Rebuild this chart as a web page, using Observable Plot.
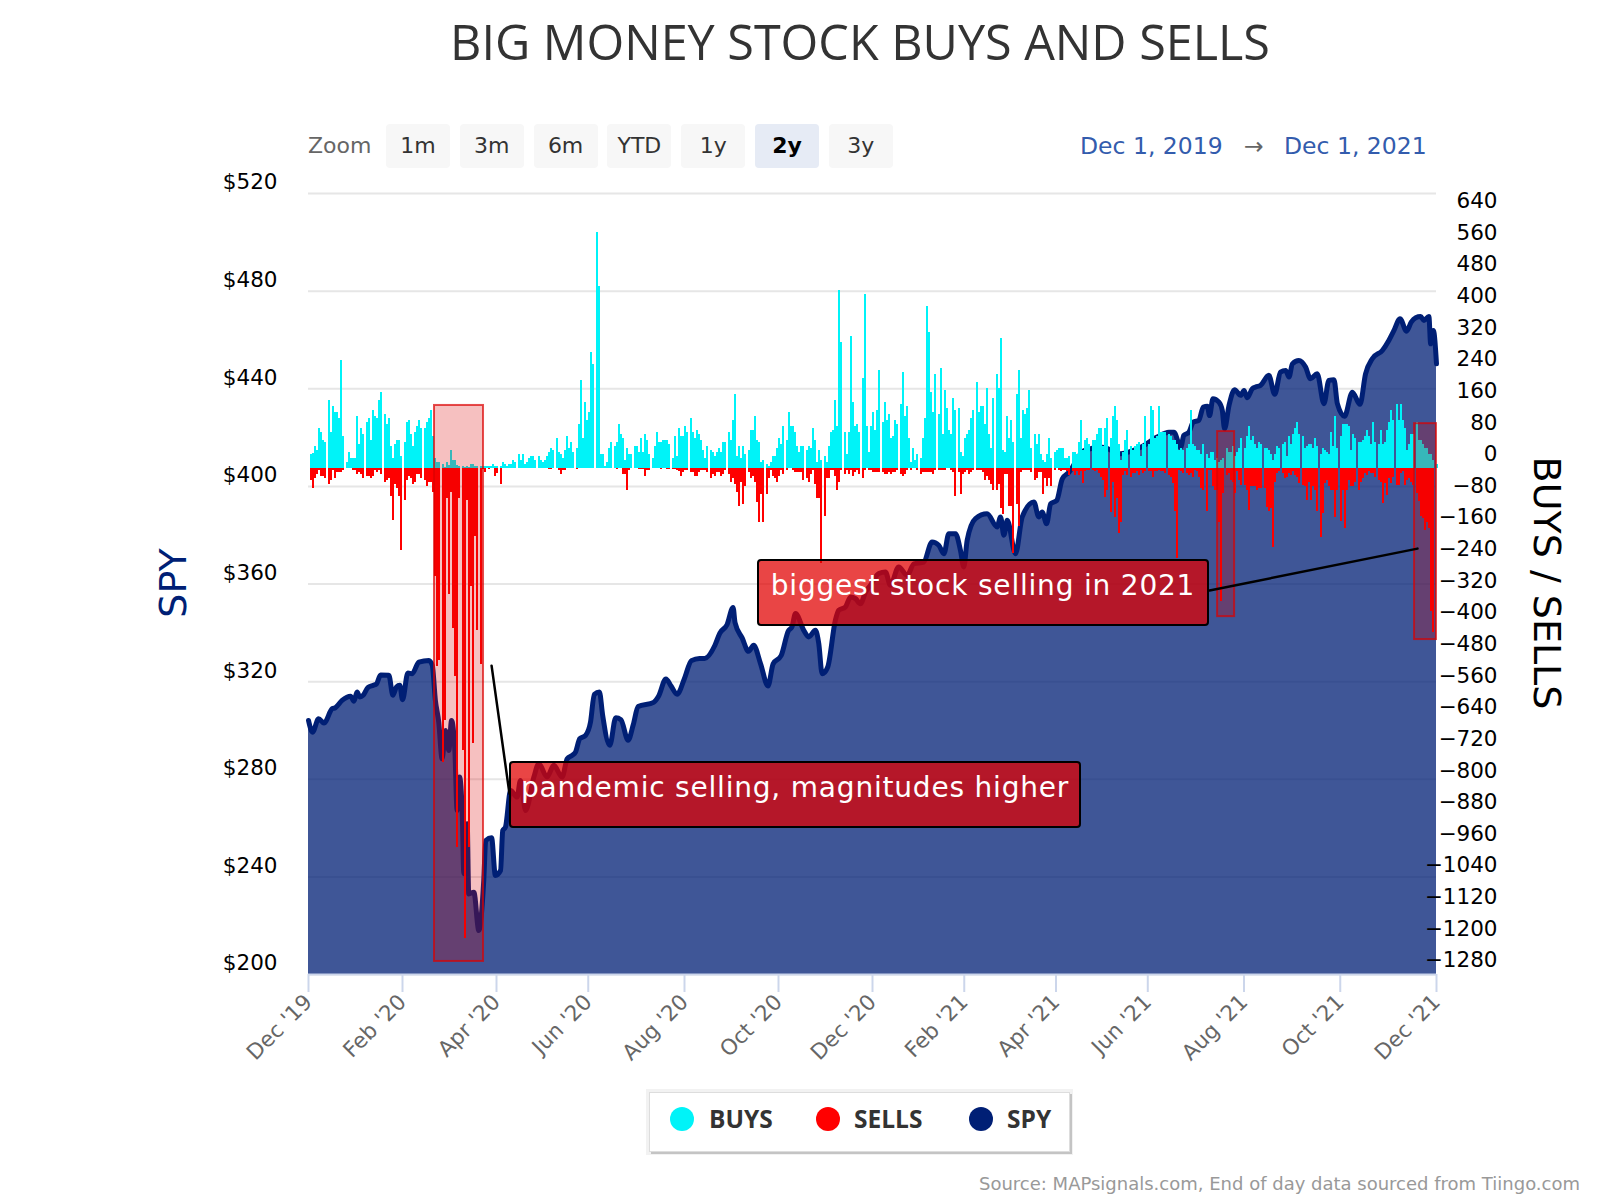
<!DOCTYPE html>
<html>
<head>
<meta charset="utf-8">
<script src="https://cdn.jsdelivr.net/npm/d3@7"></script>
<script src="https://cdn.jsdelivr.net/npm/@observablehq/plot@0.6"></script>
<style>
  body { margin: 0; background: #fff; }
  #page { position: relative; width: 1600px; height: 1200px; overflow: hidden; font-family: "DejaVu Sans", sans-serif; }
  #page > svg { position: absolute; left: 0; top: 0; }
  .abs { position: absolute; white-space: nowrap; }
  .btn { top: 124px; width: 64px; height: 44px; line-height: 44px; text-align: center; background: #f7f7f7; border-radius: 4px; font-size: 22px; color: #333; }
  .btn.on { background: #e6ebf5; color: #000; font-weight: bold; }
  .note { background: rgba(225,0,0,.73); border: 2.5px solid #000; border-radius: 4px; box-sizing: border-box; height: 67px; line-height: 50px; color: #fff; font-size: 28px; text-align: center; letter-spacing: .8px; }
  .lg { font: bold 24.5px "Open Sans"; color: #333; top: 1102px; }
  .dot { width: 24px; height: 24px; border-radius: 50%; top: 1107px; }
</style>
</head>
<body>
<div id="page"></div>
<script>
// trading day index -> month labels
const xTickIdx = [0, 42, 84, 125, 168, 210, 252, 293, 334, 375, 418, 461, 504]
const xTickLabels = ["Dec '19", "Feb '20", "Apr '20", "Jun '20", "Aug '20", "Oct '20", "Dec '20", "Feb '21", "Apr '21", "Jun '21", "Aug '21", "Oct '21", "Dec '21"]
const spyTicks = [200, 240, 280, 320, 360, 400, 440, 480, 520]
const flowTicks = [640, 560, 480, 400, 320, 240, 160, 80, 0, -80, -160, -240, -320, -400, -480, -560, -640, -720, -800, -880, -960, -1040, -1120, -1200, -1280]

const spyIdx = [0, 1.8, 4.5, 6.9, 10.6, 12, 15, 18.8, 20.3, 21.7, 23, 24.4, 26.5, 29, 30.4, 32.2, 35.9, 37.7, 39.3, 40.8, 42, 44.4, 46.3, 49.3, 53.8, 55.3,
  56.7, 58.2, 59.7, 61.2, 62.7, 63.9, 65.4, 66.4, 67.5, 68.7, 69.4, 70.9, 71.6, 73.9, 76.1, 78.3, 79.2, 81.8, 83.5, 85.8, 86.8, 88, 90.3, 93.2, 94.7, 97, 100.7, 102.9, 106.6, 109.6, 113.3, 115.6, 117.8, 119.3, 121.2, 123.8,
  126, 127.7, 130, 131.4, 134.6, 137.3, 139.6, 142.8, 145.1, 147.3, 154.2, 156.4, 159.7, 162, 164.7, 167.9, 171.1, 174.7, 177, 181.6, 183.8, 187, 189.7, 190.6, 193.8, 196.6, 198.9, 202, 205.3, 207.6, 211.2, 214.4, 216, 217.6, 221.3, 223.5, 226.5, 228, 229.5, 232,
  235.4, 236.9, 239.9, 242.2, 244.4, 246.6, 248.9, 251.1, 254.8, 257.8, 260, 263.7, 267.5, 270.5, 274.9, 278.6, 281.6, 283.9, 286.1, 289.1, 291.3, 292.8, 294.3, 298, 303.2, 307.7, 309.2, 310.7, 312.2, 315.9, 318.9, 324.1, 326.3, 327.8, 329.8, 331.6, 334.3, 336.8, 339.8,
  346.5, 354.7, 362.8, 371.8, 379.2, 384.4, 386.7, 389.7, 391.1, 393.4, 395.3, 397.8, 399.8, 401.6, 402.6, 404.1, 406.8, 408.3, 409.3, 411.3, 413.8, 416.5, 418, 419.4, 421.7, 423.2, 425.4, 429.1, 431.7, 434.3, 436.6, 438.1, 439.6, 442.5, 445.5, 447.7, 450.7, 453.7, 455.9, 458.2, 459.7, 462.9, 466.4, 469.8, 472.3, 475.3, 479.8, 482.7, 485, 487.7, 490.6, 492.7, 494.7, 496.9, 498.4, 500.6, 501.4, 502.6, 504]
const spyVals = [304.1, 299.3, 304.8, 303, 308.9, 309.3, 312.3, 314, 312, 315.7, 313.7, 314.4, 317.5, 318.5, 319.1, 322.7, 322.6, 314.4, 317.8, 318.5, 312.6, 323.5, 323.2, 328, 328.7, 326.7,
  312.3, 303.4, 288.4, 300, 291.8, 304.1, 291.8, 267.2, 280.9, 265.9, 241.3, 261.8, 233, 233.7, 218, 238.5, 254.9, 256, 240.6, 242.6, 259, 260.4, 275.4, 272.7, 279.5, 267.2, 280.9, 286.4, 280.9, 285.7, 280.9, 288.4, 289.8, 291.1, 296.6, 298,
  303.4, 314.8, 315.7, 306.4, 293.9, 305.2, 304.4, 296, 302.3, 309.8, 311.5, 314, 321.1, 318.2, 314.8, 321.1, 328.6, 329.5, 329.5, 334.9, 339.9, 343.3, 350.4, 344.1, 337.8, 332.4, 334.9, 327.3, 318.2, 327.3, 330.7, 340.8, 342.4, 347.9, 341, 338.3, 341, 335.6, 323.2, 326,
  345.1, 349.2, 350.6, 354.7, 354, 351.9, 356.7, 359.5, 364.3, 364.9, 359.5, 367, 363.6, 368.3, 369, 377.2, 375.9, 372.4, 380.6, 380.6, 373.8, 367, 377.9, 386.8, 388.8, 383.4, 387.5, 380, 386.1, 372.4, 387.5, 393.6, 387.5, 389.5, 384.7, 392.9, 394.2, 403.1, 405.8,
  414.7, 416, 413.4, 416, 420.2, 422.2, 422.2, 416, 420.9, 422.2, 426.3, 427, 432.5, 432.8, 429, 435.9, 434.5, 431.1, 423.6, 433.2, 439.6, 437.3, 439.3, 436.3, 440, 440.7, 441.4, 445.5, 437.7, 446.8, 447.5, 444.8, 450.2, 451.6, 448.9, 444.1, 446.1, 433.9, 443.4, 443.7, 433.9, 428.7, 438.6, 433.6, 446.1, 452.3, 455.7, 459.8, 463.9, 468.7, 463.6, 467.3, 469.1, 469.6, 468, 469.6, 458.4, 463.9, 450.2]

const buys = [35, 38, 55, 45, 100, 90, 70, 65, 171, 90, 156, 141, 141, 126, 272, 80, 14, 40, 24, 24, 24, 131, 60, 100, 85, 115, 126, 70, 146, 131, 126, 171, 191,
  136, 110, 126, 55, 24, 60, 70, 70, 30, 65, 115, 120, 85, 55, 90, 105, 120, 100, 100, 115, 126, 146, 80, 24, 14, 14, 9, 3, 14, 8, 45, 19, 19, 8,
  5, 5, 2, 5, 1, 9, 9, 5, 4, 4, 4, 4, 4, 4, 4, 9, 4, 4, 4, 14, 9, 4, 9, 9, 19, 14, 35, 19, 35, 9, 14, 24, 30, 30, 19, 30, 19, 14, 19, 30, 40, 50,
  45, 75, 40, 35, 24, 45, 80, 50, 65, 40, 50, 110, 222, 75, 166, 120, 141, 292, 262, 596, 459, 35, 35, 4, 14, 50, 65, 55, 65, 110, 85, 75, 19, 50,
  35, 35, 55, 55, 40, 75, 40, 85, 70, 35, 24, 55, 90, 65, 65, 70, 70, 70, 60, 24, 80, 30, 100, 80, 80, 105,
  91, 126, 91, 76, 96, 86, 71, 46, 25, 56, 46, 40, 30, 40, 51, 40, 66, 66, 91, 71, 121, 187, 30, 56, 25, 56, 35, 46, 96, 96, 131, 71, 66,
  15, 20, 10, 5, 15, 30, 30, 51, 76, 61, 106, 71, 142, 106, 106, 91, 56, 40, 56, 56, 46, 56, 51, 101, 71, 15, 46, 20, 30, 15, 56, 91, 96, 172,
  106, 450, 319, 91, 35, 91, 334, 167, 106, 111, 91, 228, 440, 106, 40, 106, 142, 96, 147, 248, 116, 167, 121, 137, 76, 81, 121, 111, 162, 243, 131, 157, 76, 15,
  51, 20, 35, 25, 76, 126, 410, 344, 192, 142, 238, 137, 253, 86, 197, 152, 96, 86, 177, 147, 152, 40, 30, 76, 86, 96, 126, 147, 217, 142, 157, 157, 111, 202,
  86, 51, 177, 238, 202, 329, 46, 40, 131, 76, 121, 66, 187, 248, 76, 147, 137, 152, 197, 51, 86, 61, 86, 35, 20, 15, 35, 76, 25, 40, 46, 51,
  51, 51, 25, 25, 30, 40, 40, 35, 66, 121, 46, 71, 76, 61, 71, 71, 86, 101, 101, 56, 101, 126, 76, 131, 157, 121, 61, 20, 40, 71, 96, 56, 46, 56, 61, 66,
  30, 61, 131, 61, 157, 147, 76, 81, 157, 91, 91, 91, 86, 81, 71, 71, 61, 46, 51, 46, 51, 61, 147, 61, 56, 46, 46, 35, 61, 35, 25, 40, 40,
  20, 25, 15, 20, 25, 51, 39, 39, 56, 30, 40, 51, 76, 51, 81, 106, 71, 81, 61, 51, 66, 61, 51, 51, 46, 35, 20, 35, 56, 51, 61, 66, 30, 81, 61,
  86, 101, 116, 86, 81, 51, 56, 61, 61, 51, 76, 56, 35, 51, 46, 40, 35, 91, 56, 131, 51, 81, 111, 111, 111, 106, 46, 86, 76, 66, 66, 71, 81, 96,
  81, 61, 116, 66, 61, 96, 61, 66, 96, 116, 147, 121, 162, 121, 162, 121, 101, 46, 61, 86, 86, 115, 71, 71, 61, 51, 51, 35, 35, 20, 10]

const sells = [31, 51, 26, 16, 6, 21, 21, 26, 41, 31, 6, 26, 11, 11, 11, 6, 0, 0, 0, 6, 6, 16, 11, 16, 26, 21, 21, 26, 21, 6, 11, 6, 16,
  36, 31, 26, 72, 132, 41, 51, 72, 208, 82, 31, 21, 26, 41, 36, 16, 16, 26, 31, 46, 36, 36, 62, 273, 501, 486, 743, 637, 76, 319, 61, 405, 526, 958,
  76, 713, 1190, 81, 958, 298, 696, 172, 410, 496, 4, 11, 0, 4, 0, 0, 21, 14, 41, 0, 0, 0, 0, 0, 0, 0, 0, 0, 0, 0, 0, 0, 0, 0, 0, 0, 0, 0, 0, 0, 4, 4,
  0, 0, 6, 16, 6, 6, 0, 0, 0, 0, 4, 0, 0, 0, 0, 0, 0, 0, 0, 0, 0, 0, 0, 0, 0, 0, 0, 0, 4, 0, 0, 16, 16,
  56, 6, 0, 0, 0, 4, 4, 4, 21, 5, 5, 0, 0, 0, 0, 4, 0, 0, 4, 4, 4, 4, 6, 8, 20, 10,
  5, 5, 10, 10, 20, 20, 10, 5, 5, 5, 10, 25, 15, 20, 10, 10, 20, 15, 5, 15, 35, 25, 40, 61, 96, 35, 91, 45, 10, 25, 20, 35, 86,
  137, 66, 137, 66, 25, 5, 20, 25, 35, 20, 5, 15, 5, 0, 0, 5, 10, 10, 10, 10, 30, 25, 35, 15, 5, 40, 76, 76, 240, 121, 25, 25, 5, 5,
  20, 56, 35, 5, 15, 5, 15, 5, 20, 10, 5, 15, 25, 5, 0, 5, 5, 10, 10, 10, 10, 10, 15, 15, 10, 15, 10, 10, 5, 15, 20, 15, 5, 0,
  5, 0, 0, 5, 15, 10, 10, 10, 10, 10, 15, 5, 5, 5, 5, 5, 0, 0, 5, 10, 71, 10, 66, 15, 10, 5, 15, 10, 5, 5, 5, 5, 10, 30,
  20, 30, 40, 56, 56, 40, 101, 116, 15, 15, 96, 96, 216, 91, 147, 10, 5, 5, 5, 5, 10, 30, 25, 10, 10, 66, 25, 45, 25, 45, 5, 0,
  5, 9, 5, 5, 9, 18, 9, 18, 9, 18, 9, 39, 9, 5, 5, 5, 9, 5, 13, 22, 30, 75, 56, 111, 35, 125, 77, 165, 136, 18, 9, 18, 22, 13, 13, 9,
  18, 5, 13, 9, 9, 9, 22, 9, 9, 5, 9, 9, 13, 18, 22, 39, 110, 228, 5, 9, 13, 13, 18, 13, 22, 5, 9, 22, 51, 56, 110, 5, 5,
  45, 56, 56, 136, 338, 64, 18, 13, 32, 35, 64, 9, 30, 43, 43, 56, 106, 47, 47, 47, 56, 51, 51, 51, 98, 110, 102, 200, 35, 13, 9, 13, 26, 22, 13,
  18, 9, 18, 22, 39, 43, 47, 81, 35, 81, 47, 56, 110, 175, 115, 39, 30, 47, 56, 56, 125, 56, 135, 56, 151, 56, 30, 47, 47, 35, 56, 35, 26, 13,
  18, 9, 13, 13, 22, 30, 35, 89, 39, 68, 26, 39, 22, 43, 43, 13, 9, 43, 30, 26, 35, 43, 64, 85, 123, 127, 157, 136, 152, 363, 414]

// highlighted windows, in trading day index and buys/sells units
const zoneX1 = [56.3, 406.2, 494.2]
const zoneX2 = [78.2, 413.8, 504]
const zoneTop = [159, 93, 113]
const zoneBottom = [-1247, -375, -433]
const leaderA = { x: [81.8, 89.8], y: [-499, -823] }
const leaderB = { x: [402.6, 495.5], y: [-309, -203] }

const navy = "#001f75", cyan = "#00f3f8", red = "#ff0000"
const frame = { width: 1600, height: 1200, marginLeft: 308, marginRight: 164, marginTop: 193, marginBottom: 226,
  style: { background: "none", overflow: "visible", fontFamily: "DejaVu Sans" } }
const xScale = { type: "linear", domain: [0, 504] }

// the original snaps its columns to even pixels, that is what leaves the little gaps
const dayPx = 1128 / 504
const barLeft = i => (2 * Math.floor((310.28 + 2.234 * i) / 2) - 308) / dayPx
const barRight = i => barLeft(i) + 2 / dayPx

const spy = spyIdx.map((x, i) => ({ x, y: spyVals[i] }))

// price layer
const pricePlot = Plot.plot({
  ...frame,
  x: xScale,
  y: { domain: [200, 520] },
  marks: [
    Plot.gridY(spyTicks, { stroke: "#e6e6e6", strokeOpacity: 1, strokeWidth: 2 }),
    Plot.areaY(spy, { x: "x", y1: 200, y2: "y", fill: navy, fillOpacity: 0.753, curve: "monotone-x" }),
    Plot.lineY(spy, { x: "x", y: "y", stroke: navy, strokeWidth: 5, curve: "monotone-x" }),
    Plot.ruleY([200], { stroke: "#ccd6eb", strokeWidth: 2 }),
    Plot.axisY(spyTicks, { anchor: "left", label: null, tickSize: 0, tickPadding: 31, dy: -11, fontSize: 21.5, fill: "#000", tickFormat: d => "$" + d }),
    Plot.axisX(xTickIdx, { anchor: "bottom", label: null, tickSize: 18, strokeWidth: 2, stroke: "#ccd6eb", fill: "#666", fontSize: 21.5,
      tickRotate: -45, tickPadding: 6, tickFormat: d => xTickLabels[xTickIdx.indexOf(d)] })
  ]
})

// buys / sells layer on its own right axis
const zones = zoneX1.map((x1, i) => ({ x1, x2: zoneX2[i], y1: zoneBottom[i], y2: zoneTop[i] }))
const flowPlot = Plot.plot({
  ...frame,
  x: { ...xScale, axis: null },
  y: { domain: [-1280, 695] },
  marks: [
    Plot.rect(buys, { x1: (d, i) => barLeft(i), x2: (d, i) => barRight(i), y1: 0, y2: d => d, fill: cyan, shapeRendering: "crispEdges" }),
    Plot.rect(sells, { x1: (d, i) => barLeft(i), x2: (d, i) => barRight(i), y1: 0, y2: d => -d, fill: red, shapeRendering: "crispEdges" }),
    Plot.rect(zones, { x1: "x1", x2: "x2", y1: "y1", y2: "y2", fill: "rgb(220,0,0)", fillOpacity: 0.247, stroke: "rgb(220,0,0)", strokeOpacity: 0.7, strokeWidth: 2 }),
    Plot.line(leaderA.x.map((x, i) => [x, leaderA.y[i]]), { stroke: "#000", strokeWidth: 2.5 }),
    Plot.line(leaderB.x.map((x, i) => [x, leaderB.y[i]]), { stroke: "#000", strokeWidth: 2.5 }),
    Plot.axisY(flowTicks, { anchor: "right", label: null, tickSize: 0, tickPadding: 61, dy: -14, textAnchor: "end", fontSize: 21.5, fill: "#000",
      tickFormat: d => d < 0 ? "\u2212" + (-d) : String(d) })
  ]
})

const page = document.getElementById("page")
page.append(pricePlot, flowPlot)

function addText(html, cls, css) {
  const el = document.createElement("div")
  el.className = "abs " + cls
  el.innerHTML = html
  Object.assign(el.style, css)
  page.append(el)
  return el
}

addText("BIG MONEY STOCK BUYS AND SELLS", "", { left: "0", width: "1720px", top: "8px", textAlign: "center", font: '48.5px "Open Sans"', color: "#333" })
addText("Zoom", "", { left: "308px", top: "133px", fontSize: "22px", color: "#666" })
const buttons = ["1m", "3m", "6m", "YTD", "1y", "2y", "3y"]
buttons.forEach((b, i) => addText(b, "btn" + (b === "2y" ? " on" : ""), { left: 386 + i * 73.8 + "px" }))
addText("Dec 1, 2019", "", { left: "1080px", top: "132px", fontSize: "23.5px", color: "#335cad" })
addText("\u2192", "", { left: "1244px", top: "132px", fontSize: "23.5px", color: "#666" })
addText("Dec 1, 2021", "", { left: "1284px", top: "132px", fontSize: "23.5px", color: "#335cad" })

addText("SPY", "", { left: "173px", top: "583px", fontSize: "38px", color: navy, transform: "translate(-50%,-50%) rotate(-90deg)" })
addText("BUYS / SELLS", "", { left: "1547px", top: "583px", fontSize: "38px", color: "#000", transform: "translate(-50%,-50%) rotate(90deg)" })

addText("pandemic selling, magnitudes higher", "note", { left: "509px", top: "761px", width: "572px" })
addText("biggest stock selling in 2021", "note", { left: "757px", top: "559px", width: "452px" })

// legend
addText("", "", { left: "649px", top: "1092px", width: "421px", height: "60px", background: "#fff", border: "1px solid #ddd", boxSizing: "border-box", boxShadow: "2px 2px 0 #c4c4c4, 0 0 0 3px #f2f2f2" })
const legendNames = ["BUYS", "SELLS", "SPY"]
const legendColors = [cyan, red, navy]
const legendDotX = [670, 816, 969]
const legendTextX = [709, 854, 1007]
legendNames.forEach((n, i) => {
  addText("", "dot", { left: legendDotX[i] + "px", background: legendColors[i] })
  addText(n, "lg", { left: legendTextX[i] + "px" })
})

addText("Source: MAPsignals.com, End of day data sourced from Tiingo.com", "", { right: "20px", top: "1173px", fontSize: "18px", color: "#999" })
</script>
</body>
</html>
